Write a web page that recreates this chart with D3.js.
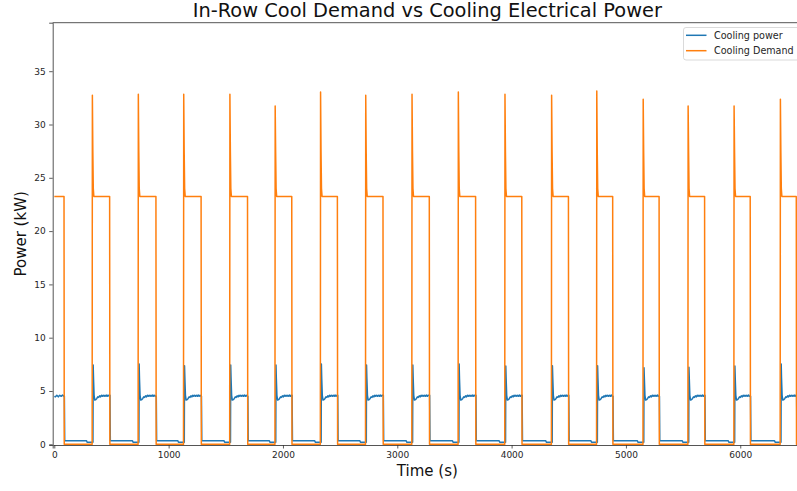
<!DOCTYPE html>
<html>
<head>
<meta charset="utf-8">
<script src="https://cdn.jsdelivr.net/npm/d3@7/dist/d3.min.js"></script>
<style>
  html, body { margin: 0; padding: 0; background: #fff; overflow: hidden; }
  svg { display: block; font-family: "DejaVu Sans", sans-serif; }
</style>
</head>
<body>
<svg id="chart" width="797" height="491"></svg>
<script>
// ---- Data ----
const xTicks = [0, 1000, 2000, 3000, 4000, 5000, 6000];
const yTicks = [0, 5, 10, 15, 20, 25, 30, 35];
const seriesNames = ["Cooling power", "Cooling Demand"];

// Times (s) where the cooling demand switches on (spike) and off
const riseTimes = [332, 734, 1131, 1535, 1931, 2328, 2723, 3128, 3533, 3941, 4349, 4744, 5150, 5543, 5945, 6350];
const fallTimes = [85, 484, 889, 1284, 1690, 2077, 2476, 2875, 3280, 3685, 4089, 4497, 4884, 5290, 5688, 6087, 6490];

// Peak of each demand spike (kW) and plateau level
const demandPeaks = [32.74, 32.83, 32.83, 32.83, 31.74, 33.05, 32.74, 32.83, 33.05, 32.83, 32.74, 33.14, 32.36, 31.74, 31.74, 32.36];
const demandOnLevel = 23.25;
const demandDecayOffsets = [4, 8, 13];
const demandDecayValues = [27.5, 24.0, 23.25];

// Peak of each cooling-power spike (kW)
const powerPeaks = [7.44, 7.53, 7.37, 7.44, 7.44, 7.53, 7.44, 7.44, 7.53, 7.34, 7.37, 7.37, 7.19, 7.22, 7.34, 7.53];
// Cooling power shape after each spike (offset s from spike, kW)
const powerOnOffsets = [3, 8, 14, 24, 32, 40, 48, 56, 64, 72, 80, 88, 96, 104, 112, 120, 128, 136, 144, 152, 160];
const powerOnValues  = [6.2, 4.6, 4.15, 4.2, 4.3, 4.45, 4.4, 4.55, 4.45, 4.6, 4.5, 4.6, 4.5, 4.6, 4.5, 4.62, 4.5, 4.6, 4.5, 4.6, 4.5];
// Cooling power at start of the record (time s, kW)
const powerStartTimes  = [0, 10, 22, 35, 48, 60, 72, 85];
const powerStartValues = [4.5, 4.45, 4.6, 4.45, 4.6, 4.5, 4.62, 4.5];
// Cooling power while demand is off (early, late) kW
const powerOffLevels = [0.34, 0.2];
const recordEnd = 6540;

// ---- Build series from the read values ----
const demand = [[0, demandOnLevel], [fallTimes[0], demandOnLevel], [fallTimes[0] + 2, 0]];
riseTimes.forEach((r, i) => {
  demand.push([r - 1, 0], [r + 1, demandPeaks[i]]);
  demandDecayOffsets.forEach((o, j) => demand.push([r + 1 + o, demandDecayValues[j]]));
  const f = fallTimes[i + 1];
  demand.push([f, demandOnLevel], [f + 2, 0]);
});
demand.push([recordEnd, 0]);

const power = powerStartTimes.map((t, i) => [t, powerStartValues[i]]);
let lastOn = powerStartValues[powerStartValues.length - 1];
fallTimes.forEach((f, i) => {
  power.push([f + 3, lastOn], [f + 6, powerOffLevels[0]]);
  const r = riseTimes[i];
  if (r === undefined) { power.push([recordEnd, powerOffLevels[0]]); return; }
  power.push([r - 50, powerOffLevels[0]], [r - 45, powerOffLevels[1]], [r + 6, powerOffLevels[1]]);
  const s = r + 8;
  power.push([s, powerPeaks[i]]);
  const nf = fallTimes[i + 1];
  powerOnOffsets.forEach((o, j) => {
    if (s + o < nf) { power.push([s + o, powerOnValues[j]]); lastOn = powerOnValues[j]; }
  });
});

// ---- Layout ----
const svg = d3.select("#chart");
const pLeft = 52.7, pRight = 802, pTop = 22.7, pBottom = 445;
const x = d3.scaleLinear().domain([-14, 6540]).range([pLeft, pRight]);
const y = d3.scaleLinear().domain([-0.066, 39.55]).range([pBottom, pTop]);

svg.append("defs").append("clipPath").attr("id", "clip")
  .append("rect").attr("x", pLeft).attr("y", pTop).attr("width", pRight - pLeft).attr("height", pBottom - pTop);

const line = d3.line().x(d => x(d[0])).y(d => y(d[1]));
const colors = ["#1f77b4", "#ff7f0e"];

const g = svg.append("g").attr("clip-path", "url(#clip)");
g.append("path").datum(power).attr("d", line).attr("fill", "none")
  .attr("stroke", colors[0]).attr("stroke-width", 1.5).attr("stroke-linejoin", "round");
g.append("path").datum(demand).attr("d", line).attr("fill", "none")
  .attr("stroke", colors[1]).attr("stroke-width", 1.5).attr("stroke-linejoin", "round");

// Axes
const xAxis = d3.axisBottom(x).tickValues(xTicks).tickFormat(d3.format("d")).tickSizeOuter(0).tickSize(3.5).tickPadding(3.5);
const yAxis = d3.axisLeft(y).tickValues(yTicks).tickFormat(d3.format("d")).tickSizeOuter(0).tickSize(3.5).tickPadding(3.5);
const gx = svg.append("g").attr("transform", `translate(0,${pBottom})`).call(xAxis);
const gy = svg.append("g").attr("transform", `translate(${pLeft},0)`).call(yAxis);
[gx, gy].forEach(a => {
  a.select(".domain").attr("stroke", "#555").attr("stroke-width", 1);
  a.selectAll(".tick line").attr("stroke", "#333").attr("stroke-width", 0.8);
  a.selectAll(".tick text").attr("fill", "#262626").style("font-size", "9px").style("font-family", "DejaVu Sans");
});
// top spine
svg.append("line").attr("x1", pLeft).attr("x2", pRight).attr("y1", pTop).attr("y2", pTop)
  .attr("stroke", "#555").attr("stroke-width", 1);

// Titles
const cx = (pLeft + pRight) / 2;
svg.append("text").attr("x", cx).attr("y", 17).attr("text-anchor", "middle")
  .style("font-size", "19.4px").attr("fill", "#111").text("In-Row Cool Demand vs Cooling Electrical Power");
svg.append("text").attr("x", cx).attr("y", 476).attr("text-anchor", "middle")
  .style("font-size", "15px").attr("fill", "#111").text("Time (s)");
svg.append("text").attr("transform", `translate(26,${(pTop + pBottom) / 2}) rotate(-90)`).attr("text-anchor", "middle")
  .style("font-size", "15px").attr("fill", "#111").text("Power (kW)");

// Legend
const lg = svg.append("g");
lg.append("rect").attr("x", 683.5).attr("y", 27.5).attr("width", 116).attr("height", 32.5)
  .attr("rx", 2.5).attr("fill", "#fff").attr("fill-opacity", 0.8).attr("stroke", "#d0d0d0").attr("stroke-width", 0.8);
seriesNames.forEach((name, i) => {
  const yy = 35.3 + i * 15.4;
  lg.append("line").attr("x1", 686).attr("x2", 706.5).attr("y1", yy).attr("y2", yy)
    .attr("stroke", colors[i]).attr("stroke-width", 1.5);
  lg.append("text").attr("x", 714).attr("y", yy + 3.5).style("font-size", "9.6px").attr("fill", "#262626").text(name);
});
</script>
</body>
</html>
